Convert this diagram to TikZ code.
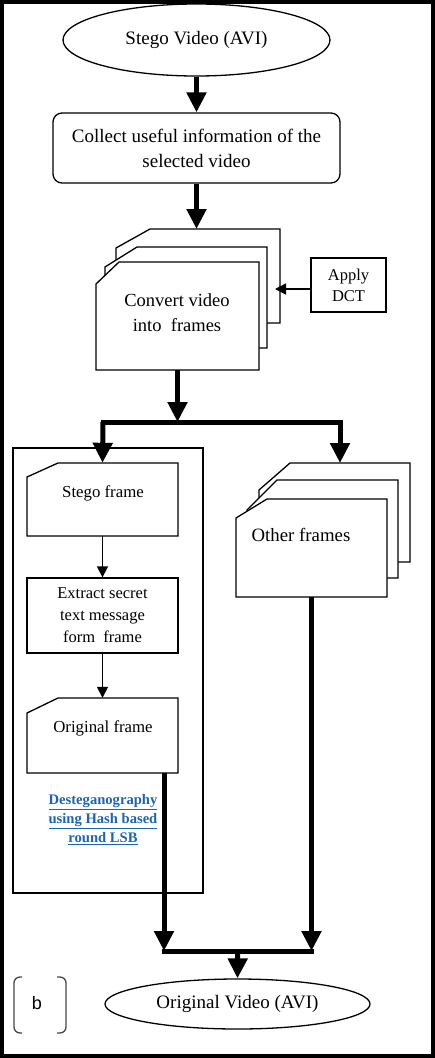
\documentclass[tikz,border=0pt]{standalone}
\usepackage{fontspec}
\setmainfont{Liberation Serif}
\newfontfamily\labelsans{Liberation Sans}
\usetikzlibrary{shapes.geometric,arrows.meta,calc}
\definecolor{linkblue}{RGB}{30,100,175}
\definecolor{bracketgray}{RGB}{70,70,70}
\tikzset{
  card/.style={inner sep=0pt,draw=none},
  cardline/.style={line width=1.3pt,fill=white},
  plainbox/.style={draw,line width=1.3pt,inner sep=0pt,align=center},
  thickarrow/.style={line width=5pt,-{Triangle[width=19pt,length=20pt]}},
  thickline/.style={line width=5pt},
  thinarrow/.style={line width=1.5pt,-{Triangle[width=11pt,length=11pt]}},
}

\begin{document}
\begin{tikzpicture}[x=1pt,y=-1pt]
\path[use as bounding box] (0,0) rectangle (435,1058);
\draw[line width=4pt] (2,2) rectangle (433,1056);
\node[ellipse,draw,line width=1.3pt,minimum width=267,minimum height=72,inner sep=0pt,font=\fontsize{19}{22}\selectfont] (sv) at (196.5,40) {Stego Video (AVI)};
\node[plainbox,rounded corners=9pt,minimum width=287,minimum height=70,font=\fontsize{19}{25}\selectfont] (info) at (196.5,148) {Collect useful information of the\\selected video};
% stacked frames (convert)
\draw[cardline] (116,248) -- (150,229) -- (280,229) -- (280,323) -- (116,323) -- cycle;
\draw[cardline] (105,267) -- (137,247) -- (267,247) -- (267,348) -- (105,348) -- cycle;
\draw[cardline] (96,284) -- (119,262) -- (259,262) -- (259,370) -- (96,370) -- cycle;
\node[card,minimum width=163,minimum height=108] (cv) at (177.5,316) {};
\coordinate (cvtop) at (196.5,229);
\node[align=center,inner sep=0pt,font=\fontsize{18.5}{25}\selectfont] at (177,313) {Convert video\\into~~frames};
\node[plainbox,minimum width=75,minimum height=54,font=\fontsize{16.5}{21}\selectfont] (dct) at (348.5,285) {Apply\\DCT};
\coordinate (cvback) at (275,289);
% desteganography block
\draw[line width=1.3pt] (13,448) rectangle (203,893);
\draw[cardline] (27,477) -- (58,463) -- (178,463) -- (178,536) -- (27,536) -- cycle;
\node[card,minimum width=151,minimum height=73] (sf) at (102.5,499.5) {};
\node[inner sep=0pt,font=\fontsize{16.8}{19}\selectfont] at (103,493) {Stego frame};
\node[plainbox,minimum width=151,minimum height=75,font=\fontsize{16.5}{22}\selectfont] (ext) at (102.5,615.5) {Extract secret\\text message\\form~~frame};
\draw[cardline] (27,713) -- (58,698) -- (178,698) -- (178,773) -- (27,773) -- cycle;
\node[card,minimum width=151,minimum height=75] (of) at (102.5,735.5) {};
\node[inner sep=0pt,font=\fontsize{16.8}{19}\selectfont] at (103,728) {Original frame};
\node[align=center,inner sep=0pt,text=linkblue,font=\fontsize{14.6}{19}\selectfont\bfseries] (link) at (103,820) {\underline{Desteganography}\\\underline{using Hash based}\\\underline{round LSB}};
% stacked frames (other)
\draw[cardline] (259,490) -- (290,463) -- (410,463) -- (410,562) -- (259,562) -- cycle;
\draw[cardline] (247,510) -- (277,480) -- (398,480) -- (398,578) -- (247,578) -- cycle;
\draw[cardline] (236,518) -- (267,499) -- (387,499) -- (387,597) -- (236,597) -- cycle;
\node[card,minimum width=151,minimum height=98] (ot) at (311.5,548) {};
\coordinate (otback) at (340,463);
\node[inner sep=0pt,font=\fontsize{18.8}{21}\selectfont] at (301,535) {Other frames};
\node[ellipse,draw,line width=1.3pt,minimum width=265,minimum height=50,inner sep=0pt,font=\fontsize{19}{22}\selectfont] (ov) at (237.5,1004) {Original Video (AVI)};
% b tag
\draw[bracketgray,line width=1.3pt,rounded corners=6pt] (22,977) -- (14,977) -- (14,1033) -- (22,1033);
\draw[bracketgray,line width=1.3pt,rounded corners=6pt] (57,977) -- (66,977) -- (66,1033) -- (57,1033);
\node[inner sep=0pt,font=\labelsans\fontsize{18}{21}\selectfont] (tag) at (37,1003) {b};
% connectors
\coordinate (splitL) at (103,422);
\coordinate (splitR) at (340,422);
\coordinate (joinL) at (164,951);
\coordinate (joinR) at (311.5,951);
\draw[thickarrow] (sv.south) -- (info.north);
\draw[thickarrow] (info.south) -- (cvtop);
\draw[thinarrow] (dct.west |- cvback) -- (cvback);
\draw[thickarrow] (cv.south) -- (cv.south |- splitL);
\draw[thickline] ([xshift=-2.5pt]splitL) -- ([xshift=2.5pt]splitR);
\draw[thickarrow] (splitL) -- (sf.north);
\draw[thickarrow] (splitR) -- (otback);
\draw[thinarrow] (sf.south) -- (ext.north);
\draw[thinarrow] (ext.south) -- (of.north);
\draw[thickarrow] (of.south -| joinL) -- (joinL);
\draw[thickarrow] (ot.south) -- (joinR);
\draw[thickline] ([xshift=-2.5pt]joinL) -- ([xshift=2.5pt]joinR);
\draw[thickarrow] ($(joinL)!0.5!(joinR)$) -- (ov.north);
\end{tikzpicture}
\end{document}
